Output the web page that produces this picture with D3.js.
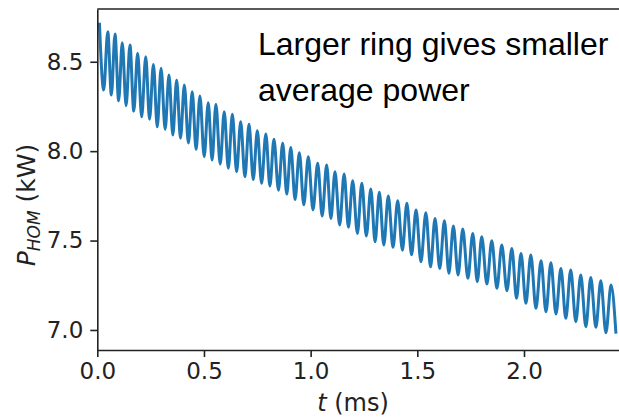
<!DOCTYPE html>
<html>
<head>
<meta charset="utf-8">
<script src="https://cdn.jsdelivr.net/npm/d3@7"></script>
<style>
  body { margin: 0; background: #fff; }
  svg { display: block; }
</style>
</head>
<body>
<div class="vis"></div>
<script>
// values: time of each peak / trough (ms) and its power (kW)
const peakT = [0.010, 0.049, 0.083, 0.117, 0.153, 0.189, 0.227, 0.263, 0.299, 0.336,
    0.372, 0.408, 0.445, 0.481, 0.520, 0.556, 0.595, 0.633, 0.672, 0.711,
    0.750, 0.790, 0.828, 0.869, 0.907, 0.947, 0.989, 1.033, 1.075, 1.114,
    1.157, 1.197, 1.240, 1.282, 1.322, 1.364, 1.408, 1.451, 1.494, 1.540,
    1.583, 1.627, 1.669, 1.713, 1.760, 1.802, 1.849, 1.896, 1.943, 1.986,
    2.032, 2.080, 2.126, 2.173, 2.219, 2.266, 2.313, 2.360, 2.408];
const peakV = [8.718, 8.668, 8.655, 8.606, 8.593, 8.547, 8.528, 8.485, 8.463, 8.426,
    8.398, 8.370, 8.332, 8.308, 8.271, 8.263, 8.220, 8.206, 8.164, 8.150,
    8.114, 8.096, 8.066, 8.044, 8.021, 7.991, 7.969, 7.932, 7.922, 7.885,
    7.872, 7.834, 7.820, 7.788, 7.770, 7.749, 7.723, 7.708, 7.671, 7.656,
    7.624, 7.611, 7.581, 7.564, 7.540, 7.521, 7.499, 7.475, 7.456, 7.428,
    7.419, 7.387, 7.376, 7.344, 7.335, 7.307, 7.294, 7.275, 7.251];
const troughT = [0.030, 0.066, 0.100, 0.135, 0.171, 0.208, 0.245, 0.281, 0.318, 0.354,
    0.390, 0.427, 0.463, 0.501, 0.538, 0.576, 0.614, 0.653, 0.692, 0.731,
    0.770, 0.809, 0.849, 0.888, 0.927, 0.968, 1.011, 1.054, 1.095, 1.136,
    1.177, 1.219, 1.261, 1.302, 1.343, 1.386, 1.430, 1.473, 1.517, 1.562,
    1.605, 1.648, 1.691, 1.737, 1.781, 1.826, 1.873, 1.920, 1.965, 2.009,
    2.056, 2.103, 2.150, 2.196, 2.243, 2.290, 2.337, 2.384, 2.431];
const troughV = [8.342, 8.314, 8.282, 8.254, 8.224, 8.192, 8.178, 8.136, 8.122, 8.090,
    8.072, 8.045, 8.010, 7.969, 7.950, 7.928, 7.904, 7.885, 7.857, 7.842,
    7.820, 7.805, 7.782, 7.760, 7.730, 7.700, 7.671, 7.637, 7.624, 7.587,
    7.574, 7.540, 7.525, 7.493, 7.475, 7.462, 7.446, 7.420, 7.381, 7.353,
    7.344, 7.317, 7.307, 7.289, 7.270, 7.257, 7.233, 7.219, 7.177, 7.149,
    7.121, 7.102, 7.089, 7.065, 7.046, 7.018, 7.015, 6.984, 6.980];
const xTicks = [0, 0.5, 1.0, 1.5, 2.0];
const yTicks = [7.0, 7.5, 8.0, 8.5];
const xDomain = [0, 2.45];
const yDomain = [6.888, 8.795];

const width = 619, height = 418,
    margin = {top: 9, right: -1, bottom: 68, left: 97.3};

const x = d3.scaleLinear().domain(xDomain).range([margin.left, width - margin.right]);
const y = d3.scaleLinear().domain(yDomain).range([height - margin.bottom, margin.top]);

// merge peaks and troughs into one path
let pts = [];
peakT.forEach((t, i) => pts.push([t, peakV[i]]));
troughT.forEach((t, i) => pts.push([t, troughV[i]]));
pts.sort((a, b) => a[0] - b[0]);

let svg = d3.select(".vis")
    .append("svg")
    .attr("width", width)
    .attr("height", height)
    .style("background", "#fff")

svg.append("clipPath")
    .attr("id", "plotClip")
    .append("rect")
    .attr("x", margin.left)
    .attr("y", margin.top)
    .attr("width", width - margin.left - margin.right)
    .attr("height", height - margin.top - margin.bottom)

svg.append("path")
    .datum(pts)
    .attr("clip-path", "url(#plotClip)")
    .attr("fill", "none")
    .attr("stroke", "#1f77b4")
    .attr("stroke-width", 3)
    .attr("stroke-linejoin", "round")
    .attr("d", d3.line().x(d => x(d[0])).y(d => y(d[1])).curve(d3.curveMonotoneX))

const tickFont = "'DejaVu Sans', sans-serif";

let xAxis = svg.append("g")
    .attr("transform", "translate(0," + (height - margin.bottom) + ")")
    .call(d3.axisBottom(x).tickValues(xTicks).tickFormat(d3.format(".1f")).tickSizeInner(7).tickSizeOuter(0).tickPadding(6))
let yAxis = svg.append("g")
    .attr("transform", "translate(" + margin.left + ",0)")
    .call(d3.axisLeft(y).tickValues(yTicks).tickFormat(d3.format(".1f")).tickSizeInner(7).tickSizeOuter(0).tickPadding(7))

svg.selectAll(".domain, .tick line")
    .attr("stroke", "#222")
    .attr("stroke-width", 1.6)
svg.selectAll(".tick text")
    .style("font-family", tickFont)
    .style("font-size", "23px")
    .attr("fill", "#222")

// top spine
svg.append("line")
    .attr("x1", margin.left).attr("x2", width)
    .attr("y1", margin.top).attr("y2", margin.top)
    .attr("stroke", "#222").attr("stroke-width", 1.6)

// axis labels
let xl = svg.append("text")
    .attr("x", 353)
    .attr("y", 411)
    .attr("text-anchor", "middle")
    .style("font-family", tickFont)
    .style("font-size", "24px")
    .attr("fill", "#222")
xl.append("tspan").style("font-style", "italic").text("t")
xl.append("tspan").text(" (ms)")

let yl = svg.append("text")
    .attr("transform", "translate(35,205) rotate(-90)")
    .attr("text-anchor", "middle")
    .style("font-family", tickFont)
    .style("font-size", "25px")
    .attr("fill", "#222")
yl.append("tspan").style("font-style", "italic").text("P")
yl.append("tspan").style("font-style", "italic").style("font-size", "17px").attr("dy", 5).text("HOM")
yl.append("tspan").attr("dy", -5).text(" (kW)")

// annotation
let note = svg.append("text")
    .style("font-family", "'Liberation Sans', Arial, sans-serif")
    .style("font-size", "32px")
    .attr("fill", "#000")
note.append("tspan").attr("x", 258).attr("y", 55).text("Larger ring gives smaller")
note.append("tspan").attr("x", 258).attr("y", 101).text("average power")
</script>
</body>
</html>
